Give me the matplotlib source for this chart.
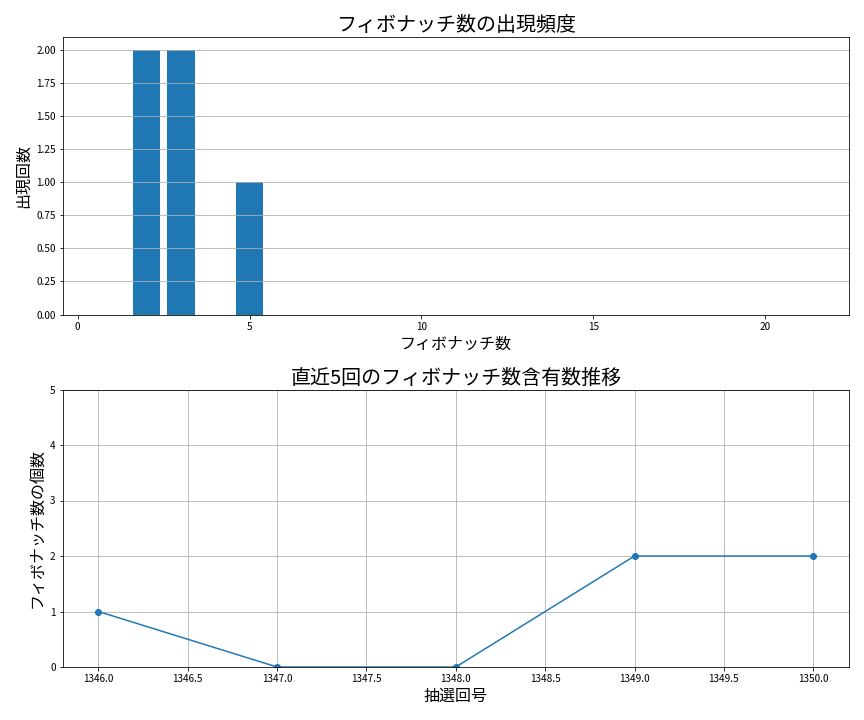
import matplotlib
matplotlib.use("Agg")
import matplotlib.pyplot as plt

plt.rcParams['font.family'] = ['Noto Sans CJK JP', 'DejaVu Sans']

fib_numbers = [1, 2, 3, 5, 8, 13, 21]
fib_counts = [0, 2, 2, 1, 0, 0, 0]

draw_ids = [1346, 1347, 1348, 1349, 1350]
fib_per_draw = [1, 0, 0, 2, 2]

fig, (ax1, ax2) = plt.subplots(2, 1, figsize=(12, 10), dpi=72)

ax1.bar(fib_numbers, fib_counts, color='#1f77b4')
ax1.set_title('フィボナッチ数の出現頻度', fontsize=20)
ax1.set_xlabel('フィボナッチ数', fontsize=16)
ax1.set_ylabel('出現回数', fontsize=16)
ax1.grid(axis='y')

ax2.plot(draw_ids, fib_per_draw, marker='o', color='#1f77b4')
ax2.set_title('直近5回のフィボナッチ数含有数推移', fontsize=20)
ax2.set_xlabel('抽選回号', fontsize=16)
ax2.set_ylabel('フィボナッチ数の個数', fontsize=16)
ax2.set_ylim(0, 5)
ax2.grid(True)

fig.tight_layout(pad=1.5)
fig.savefig('out.png', dpi=72)
